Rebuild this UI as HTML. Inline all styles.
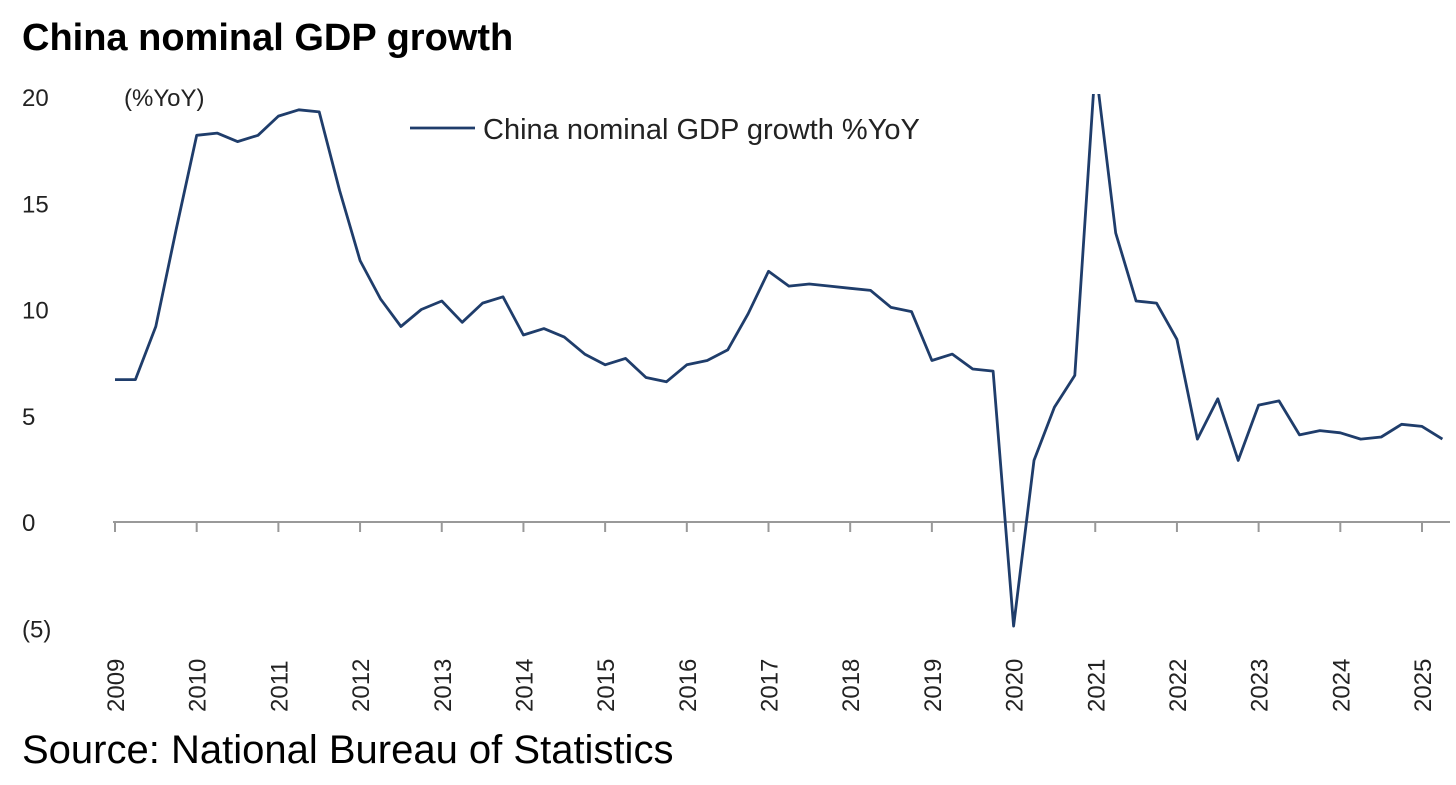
<!DOCTYPE html>
<html><head><meta charset="utf-8"><style>
body{margin:0;background:#fff;width:1456px;height:780px;overflow:hidden;font-family:"Liberation Sans",sans-serif}
</style></head><body>
<svg width="1456" height="780" xmlns="http://www.w3.org/2000/svg">
<text x="22" y="50" font-size="38" font-weight="bold" fill="#000">China nominal GDP growth</text>
<text x="124" y="106" font-size="24" fill="#222">(%YoY)</text>
<line x1="410" y1="128" x2="475" y2="128" stroke="#1f3d6b" stroke-width="2.8"/>
<text x="483" y="139" font-size="29" fill="#222">China nominal GDP growth %YoY</text>
<g id="yt"></g><g id="xt"></g>
<line x1="113" y1="522" x2="1450" y2="522" stroke="#999" stroke-width="2"/>
<defs><clipPath id="cp"><rect x="100" y="94" width="1356" height="560"/></clipPath></defs>
<path id="ln" fill="none" stroke="#1f3d6b" stroke-width="2.8" stroke-linejoin="round" clip-path="url(#cp)"/>
<text x="22" y="763" font-size="40" fill="#000">Source: National Bureau of Statistics</text>
</svg>
<script>
const values=[6.7,6.7,9.2,13.8,18.2,18.3,17.9,18.2,19.1,19.4,19.3,15.6,12.3,10.5,9.2,10.0,10.4,9.4,10.3,10.6,8.8,9.1,8.7,7.9,7.4,7.7,6.8,6.6,7.4,7.6,8.1,9.8,11.8,11.1,11.2,11.1,11.0,10.9,10.1,9.9,7.6,7.9,7.2,7.1,-4.9,2.9,5.4,6.9,21.5,13.6,10.4,10.3,8.6,3.9,5.8,2.9,5.5,5.7,4.1,4.3,4.2,3.9,4.0,4.6,4.5,3.9];
const years=[2009,2010,2011,2012,2013,2014,2015,2016,2017,2018,2019,2020,2021,2022,2023,2024,2025];
const yTicks=[-5,0,5,10,15,20];
const yTickLabels=["(5)","0","5","10","15","20"];
const NS="http://www.w3.org/2000/svg";
function X(i){return 115+i*(1422-115)/64;}
function Y(v){return 522-v*21.25;}
const yt=document.getElementById('yt');
yTicks.forEach((t,k)=>{const e=document.createElementNS(NS,'text');
e.setAttribute('x',22);e.setAttribute('y',Y(t)+9);e.setAttribute('font-size','24');e.setAttribute('fill','#222');
e.textContent=yTickLabels[k];


yt.appendChild(e);});
const xt=document.getElementById('xt');
years.forEach((yr,k)=>{const x=X(k*4);
const l=document.createElementNS(NS,'line');l.setAttribute('x1',x);l.setAttribute('x2',x);l.setAttribute('y1',522);l.setAttribute('y2',532);l.setAttribute('stroke','#999');l.setAttribute('stroke-width','2');


xt.appendChild(l);
const e=document.createElementNS(NS,'text');e.setAttribute('transform','translate('+(x+9)+',712) rotate(-90)');e.setAttribute('font-size','24');e.setAttribute('fill','#222');e.textContent=yr;


xt.appendChild(e);});
document.getElementById('ln').setAttribute('d',values.map((v,i)=>(i?'L':'M')+X(i).toFixed(1)+' '+Y(v).toFixed(1)).join(' '));
</script>
</body></html>
